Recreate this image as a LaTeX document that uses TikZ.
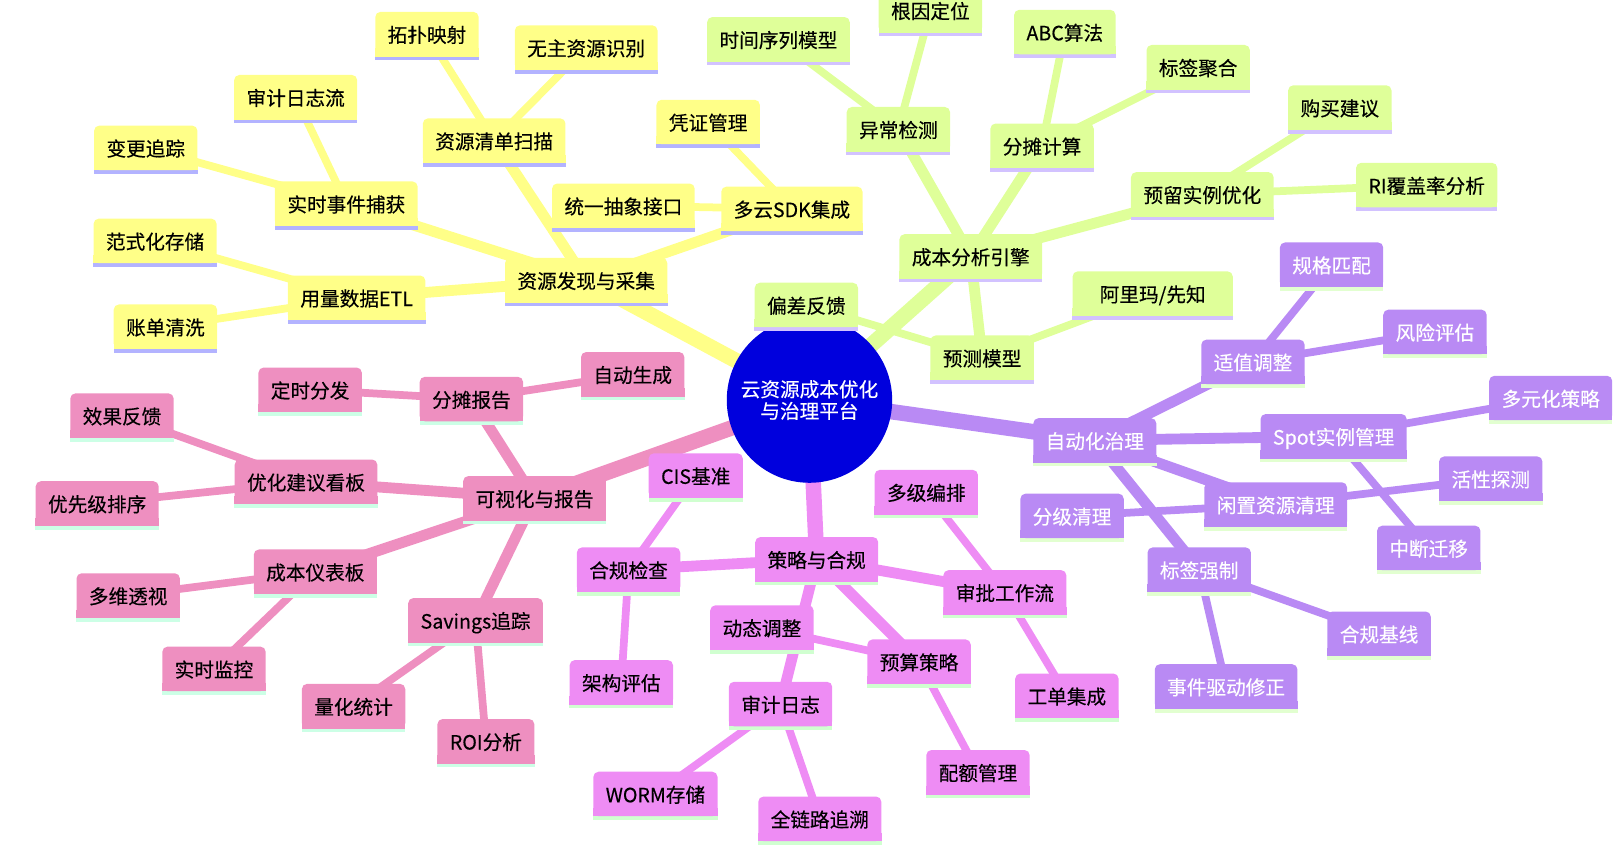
\documentclass[tikz,border=0pt]{standalone}
\usepackage{fontspec}
\setmainfont{Noto Sans CJK SC}[FakeBold=0.35]
\pgfdeclarelayer{bg}
\pgfsetlayers{bg,main}
\definecolor{cY}{HTML}{FFFF88}
\definecolor{cYl}{HTML}{B3B3FF}
\definecolor{cG}{HTML}{DFFF99}
\definecolor{cGl}{HTML}{D2C2FF}
\definecolor{cP}{HTML}{B98AF4}
\definecolor{cPl}{HTML}{E2FFD0}
\definecolor{cK}{HTML}{EE8FC0}
\definecolor{cKl}{HTML}{CCFFE6}
\definecolor{cM}{HTML}{EE8CF4}
\definecolor{cMl}{HTML}{D0FFD0}
\definecolor{cR}{HTML}{0000DD}
\tikzset{
  mm/.style n args={3}{fill=#1, text=#3, rounded corners=5pt, inner xsep=12pt, inner ysep=0pt,
    minimum height=43pt, text height=17.5pt, text depth=1.5pt, font=\fontsize{19pt}{22pt}\selectfont,
    append after command={\pgfextra{%
      \fill[#1,sharp corners] ([yshift=8pt]\tikzlastnode.south west) rectangle (\tikzlastnode.south east);
      \fill[#2,sharp corners] (\tikzlastnode.south west) rectangle ([yshift=-3.5pt]\tikzlastnode.south east);}}},
  ny/.style={mm={cY}{cYl}{black}},
  ng/.style={mm={cG}{cGl}{black}},
  np/.style={mm={cP}{cPl}{white}},
  nk/.style={mm={cK}{cKl}{black}},
  nm/.style={mm={cM}{cMl}{black}},
  ea/.style={line width=15pt},
  eb/.style={line width=10.5pt},
  ec/.style={line width=7.5pt},
}
\begin{document}
\begin{tikzpicture}[x=1pt,y=-1pt]
\useasboundingbox (0,0) rectangle (1568,819);
\node[circle, fill=cR, minimum size=160pt, inner sep=0pt, text=white, align=center,
  font=\fontsize{19pt}{21pt}\selectfont] (root) at (783,387) {云资源成本优化\\与治理平台};
% yellow
\node[ny] (y0) at (567,271) {资源发现与采集};
\node[ny] (y1) at (478,136) {资源清单扫描};
\node[ny] (y11) at (413,33) {拓扑映射};
\node[ny] (y12) at (567,46) {无主资源识别};
\node[ny] (y2) at (335,197) {实时事件捕获};
\node[ny] (y21) at (286,94) {审计日志流};
\node[ny] (y22) at (141,143) {变更追踪};
\node[ny] (y3) at (345,288) {用量数据ETL};
\node[ny] (y31) at (150,233) {范式化存储};
\node[ny] (y32) at (160,316) {账单清洗};
\node[ny] (y4) at (766,202) {多云SDK集成};
\node[ny] (y41) at (685,118) {凭证管理};
\node[ny] (y42) at (603,199) {统一抽象接口};
% green
\node[ng] (g0) at (939,248) {成本分析引擎};
\node[ng] (g1) at (869,125) {异常检测};
\node[ng] (g11) at (753,38) {时间序列模型};
\node[ng] (g12) at (900,10) {根因定位};
\node[ng] (g2) at (1008,141) {分摊计算};
\node[ng] (g21) at (1030,31) {ABC算法};
\node[ng] (g22) at (1159,65) {标签聚合};
\node[ng] (g3) at (1163,188) {预留实例优化};
\node[ng] (g31) at (1296,104) {购买建议};
\node[ng] (g32) at (1380,179) {RI覆盖率分析};
\node[ng] (g4) at (950,346) {预测模型};
\node[ng, minimum width=155pt] (g41) at (1115,284) {阿里玛/先知};
\node[ng] (g42) at (780,295) {偏差反馈};
% purple
\node[np] (p0) at (1059,426) {自动化治理};
\node[np] (p1) at (1212,350) {适值调整};
\node[np] (p11) at (1288,256) {规格匹配};
\node[np] (p12) at (1388,321) {风险评估};
\node[np] (p2) at (1290,422) {Spot实例管理};
\node[np] (p21) at (1500,385) {多元化策略};
\node[np] (p22) at (1382,530) {中断迁移};
\node[np] (p3) at (1234,488) {闲置资源清理};
\node[np] (p31) at (1442,463) {活性探测};
\node[np] (p32) at (1037,499) {分级清理};
\node[np] (p4) at (1160,551) {标签强制};
\node[np] (p41) at (1334,613) {合规基线};
\node[np] (p42) at (1186,664) {事件驱动修正};
% magenta
\node[nm] (m0) at (790,541) {策略与合规};
\node[nm] (m1) at (608,551) {合规检查};
\node[nm] (m11) at (673,460) {CIS基准};
\node[nm] (m12) at (601,660) {架构评估};
\node[nm] (m2) at (972,573) {审批工作流};
\node[nm] (m21) at (896,476) {多级编排};
\node[nm] (m22) at (1032,673) {工单集成};
\node[nm] (m3) at (889,640) {预算策略};
\node[nm] (m31) at (737,607) {动态调整};
\node[nm] (m32) at (946,747) {配额管理};
\node[nm] (m4) at (755,681) {审计日志};
\node[nm] (m41) at (634,768) {WORM存储};
\node[nm] (m42) at (793,792) {全链路追溯};
% pink
\node[nk] (k0) at (517,482) {可视化与报告};
\node[nk] (k1) at (456,386) {分摊报告};
\node[nk] (k11) at (300,377) {定时分发};
\node[nk] (k12) at (612,362) {自动生成};
\node[nk] (k2) at (296,466) {优化建议看板};
\node[nk] (k21) at (118,402) {效果反馈};
\node[nk] (k22) at (94,487) {优先级排序};
\node[nk] (k3) at (305,553) {成本仪表板};
\node[nk] (k31) at (124,576) {多维透视};
\node[nk] (k32) at (207,647) {实时监控};
\node[nk] (k4) at (460,600) {Savings追踪};
\node[nk] (k41) at (342,683) {量化统计};
\node[nk] (k42) at (470,717) {ROI分析};
\begin{pgfonlayer}{bg}
\draw[ea,cY] (root.center) -- (y0.center);
\draw[ea,cG] (root.center) -- (g0.center);
\draw[ea,cP] (root.center) -- (p0.center);
\draw[ea,cM] (root.center) -- (m0.center);
\draw[ea,cK] (root.center) -- (k0.center);
\foreach \c/\p in {y/cY,g/cG,p/cP,m/cM,k/cK}{
  \foreach \i in {1,2,3,4}{
    \draw[eb,\p] (\c0.center) -- (\c\i.center);
    \draw[ec,\p] (\c\i.center) -- (\c\i1.center);
    \draw[ec,\p] (\c\i.center) -- (\c\i2.center);
  }
}
\end{pgfonlayer}
\end{tikzpicture}
\end{document}
